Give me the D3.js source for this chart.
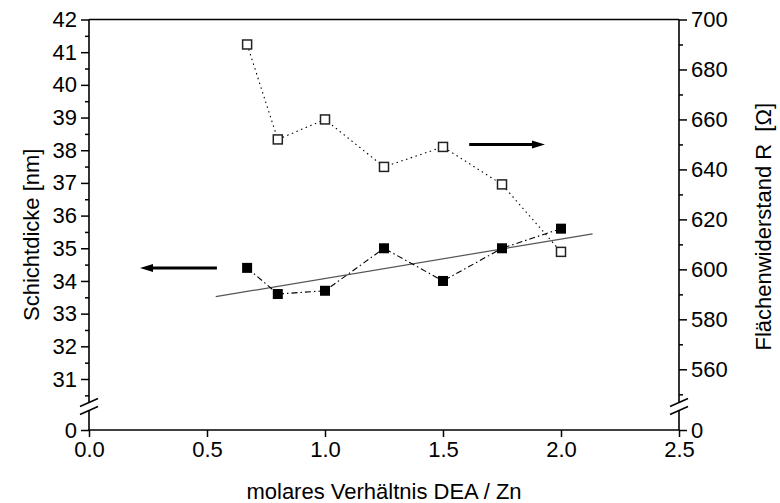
<!DOCTYPE html>
<html>
<head>
<meta charset="utf-8">
<script src="https://cdn.jsdelivr.net/npm/d3@7"></script>
<style>
  html, body { margin: 0; padding: 0; background: #fff; }
  svg { display: block; font-family: "Liberation Sans", Arial, sans-serif; }
</style>
</head>
<body>
<svg id="chart" width="780" height="503"></svg>
<script>
// molar ratio DEA / Zn
const ratio = [0.67, 0.8, 1.0, 1.25, 1.5, 1.75, 2.0];
// layer thickness [nm] (left axis)
const thickness = [34.4, 33.6, 33.7, 35.0, 34.0, 35.0, 35.6];
// sheet resistance [Ohm] (right axis)
const resistance = [690, 652, 660, 641, 649, 634, 607];
// linear fit of the thickness data, end points
const fitX = [0.537, 2.134];
const fitY = [33.52, 35.44];
// arrows pointing to the axis each series belongs to
const arrowLeft = { x: [0.542, 0.216], y: 34.4 };
const arrowRight = { x: [1.611, 1.932], y: 650 };

const xTicks = [0, 0.5, 1.0, 1.5, 2.0, 2.5];
const yLeftTicks = d3.range(31, 43);
const yLeftMinor = d3.range(30.5, 42, 1);
const yRightTicks = d3.range(560, 701, 20);
const yRightMinor = d3.range(550, 700, 20);

const svg = d3.select("#chart");
const L = 89, R = 679, T = 19.5, B = 430;

const x = d3.scaleLinear().domain([0, 2.5]).range([L, R]);
const yL = d3.scaleLinear().domain([31, 42]).range([379, T]);
const yR = d3.scaleLinear().domain([560, 700]).range([369.3, T]);
// the zero below the axis break
const yZero = d3.scaleLinear().domain([0, 1]).range([B, B - 30]);

const fontSize = 22;

function styleAxis(g) {
  g.select(".domain").remove();
  g.selectAll("line").attr("stroke", "#000").attr("stroke-width", 1.5);
  g.selectAll("text").attr("font-size", fontSize).attr("fill", "#000")
    .attr("font-family", "Liberation Sans, Arial, sans-serif");
}

// x axis
svg.append("g").attr("transform", `translate(0,${B})`)
  .call(d3.axisBottom(x).tickValues(xTicks).tickFormat(d3.format(".1f")).tickSize(7).tickPadding(4))
  .call(styleAxis);

// left axis
svg.append("g").attr("transform", `translate(${L},0)`)
  .call(d3.axisLeft(yL).tickValues(yLeftTicks).tickFormat(d3.format("d")).tickSize(8).tickPadding(4))
  .call(styleAxis);
svg.append("g").attr("transform", `translate(${L},0)`)
  .call(d3.axisLeft(yL).tickValues(yLeftMinor).tickFormat("").tickSize(4))
  .call(styleAxis);
svg.append("g").attr("transform", `translate(${L},0)`)
  .call(d3.axisLeft(yZero).tickValues([0]).tickFormat(d3.format("d")).tickSize(8).tickPadding(4))
  .call(styleAxis);

// right axis
svg.append("g").attr("transform", `translate(${R},0)`)
  .call(d3.axisRight(yR).tickValues(yRightTicks).tickFormat(d3.format("d")).tickSize(8).tickPadding(4))
  .call(styleAxis);
svg.append("g").attr("transform", `translate(${R},0)`)
  .call(d3.axisRight(yR).tickValues(yRightMinor).tickFormat("").tickSize(4))
  .call(styleAxis);
svg.append("g").attr("transform", `translate(${R},0)`)
  .call(d3.axisRight(yZero).tickValues([0]).tickFormat(d3.format("d")).tickSize(8).tickPadding(4))
  .call(styleAxis);

// frame: axis lines with a break in both vertical axes
const frame = svg.append("g").attr("stroke", "#000").attr("stroke-width", 1.6).attr("fill", "none");
const brkTop = 402.5, brkBot = 410.5;
frame.append("line").attr("x1", L).attr("x2", R).attr("y1", T).attr("y2", T);
frame.append("line").attr("x1", L).attr("x2", R).attr("y1", B).attr("y2", B);
[L, R].forEach(ax => {
  frame.append("line").attr("x1", ax).attr("x2", ax).attr("y1", T).attr("y2", brkTop);
  frame.append("line").attr("x1", ax).attr("x2", ax).attr("y1", brkBot).attr("y2", B);
  [brkTop, brkBot].forEach(yb => {
    frame.append("line")
      .attr("x1", ax - 9).attr("y1", yb + 4)
      .attr("x2", ax + 9).attr("y2", yb - 4)
      .attr("stroke-width", 1.5);
  });
});

// linear fit
svg.append("line")
  .attr("x1", x(fitX[0])).attr("y1", yL(fitY[0]))
  .attr("x2", x(fitX[1])).attr("y2", yL(fitY[1]))
  .attr("stroke", "#555").attr("stroke-width", 1.2);

// connecting lines
svg.append("path")
  .datum(ratio.map((r, i) => [r, thickness[i]]))
  .attr("d", d3.line().x(d => x(d[0])).y(d => yL(d[1])))
  .attr("fill", "none").attr("stroke", "#000").attr("stroke-width", 1.1)
  .attr("stroke-dasharray", "6,3,1.5,3");
svg.append("path")
  .datum(ratio.map((r, i) => [r, resistance[i]]))
  .attr("d", d3.line().x(d => x(d[0])).y(d => yR(d[1])))
  .attr("fill", "none").attr("stroke", "#000").attr("stroke-width", 1.1)
  .attr("stroke-dasharray", "1.5,3.5");

// markers
const sF = 10, sO = 9;
svg.append("g").selectAll("rect").data(ratio).join("rect")
  .attr("x", d => x(d) - sF / 2)
  .attr("y", (d, i) => yL(thickness[i]) - sF / 2)
  .attr("width", sF).attr("height", sF).attr("fill", "#000");
svg.append("g").selectAll("rect").data(ratio).join("rect")
  .attr("x", d => x(d) - sO / 2)
  .attr("y", (d, i) => yR(resistance[i]) - sO / 2)
  .attr("width", sO).attr("height", sO)
  .attr("fill", "#fff").attr("stroke", "#222").attr("stroke-width", 1.5);

// arrows
function arrow(x0, x1, yPix) {
  const dir = Math.sign(x1 - x0);
  const headLen = 13, headHalf = 4;
  svg.append("line")
    .attr("x1", x0).attr("x2", x1 - dir * headLen + dir * 1).attr("y1", yPix).attr("y2", yPix)
    .attr("stroke", "#000").attr("stroke-width", 3);
  svg.append("path")
    .attr("d", `M${x1},${yPix} L${x1 - dir * headLen},${yPix - headHalf} L${x1 - dir * headLen},${yPix + headHalf} Z`)
    .attr("fill", "#000");
}
arrow(x(arrowLeft.x[0]), x(arrowLeft.x[1]), yL(arrowLeft.y));
arrow(x(arrowRight.x[0]), x(arrowRight.x[1]), yR(arrowRight.y));

// axis titles
svg.append("text")
  .attr("x", (L + R) / 2).attr("y", 499)
  .attr("text-anchor", "middle").attr("font-size", fontSize)
  .text("molares Verhältnis DEA / Zn");
svg.append("text")
  .attr("transform", `translate(39,${(T + B) / 2 + 10}) rotate(-90)`)
  .attr("text-anchor", "middle").attr("font-size", fontSize)
  .text("Schichtdicke [nm]");
svg.append("text")
  .attr("transform", `translate(771,${(T + B) / 2 + 2}) rotate(-90)`)
  .attr("text-anchor", "middle").attr("font-size", fontSize)
  .text("Flächenwiderstand R\u00a0\u00a0[Ω]");
</script>
</body>
</html>
